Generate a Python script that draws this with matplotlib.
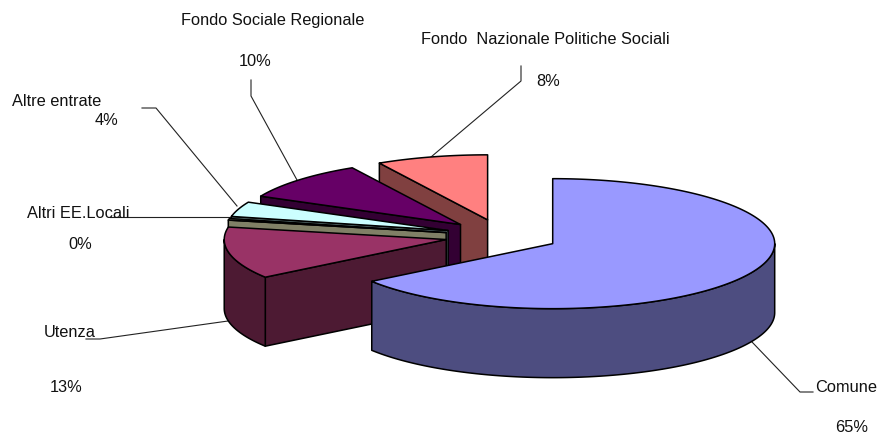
import numpy as np
import matplotlib
matplotlib.use('Agg')
import matplotlib.pyplot as plt
from matplotlib.patches import Polygon

categories = ['Comune', 'Utenza', 'Altri EE.Locali', 'Altre entrate',
              'Fondo Sociale Regionale', 'Fondo  Nazionale Politiche Sociali']
values = [65.1, 12.9, 0.4, 3.7, 9.7, 8.1]
top_colors = ['#9999FF', '#993366', '#FFFFCC', '#CCFFFF', '#660066', '#FF8080']
side_colors = ['#4D4D80', '#4D1A33', '#808066', '#668080', '#330033', '#804040']

# pie geometry, in pixels of the 884x439 picture
cx, cy = 502, 237
rx, ry = 222, 65
depth = 69
explode = 0.257

# name position, percent position, leader line
name_pos = [(815, 387.5), (44, 333), (27, 213.5), (12, 102), (181, 20.5), (421, 40)]
pct_pos = [(835, 428), (50, 388), (68, 245), (95, 121), (239, 61), (536, 81)]
leaders = [
    [(813, 393), (800, 393), (752, 343)],
    [(86, 340), (100, 340), (228, 322)],
    [(110, 218), (231, 218)],
    [(142, 109), (156, 109), (237, 207)],
    [(251, 81), (251, 97), (297, 181)],
    [(521, 67), (521, 82), (431, 158)],
]


def rim(ax0, ay0, a0, a1, drop=0):
    t = np.radians(np.linspace(a0, a1, max(int(abs(a1 - a0)) * 2, 2)))
    return np.column_stack([ax0 + rx * np.sin(t), ay0 - ry * np.cos(t) + drop])


fig = plt.figure(figsize=(8.84, 4.39), dpi=100)
ax = fig.add_axes([0, 0, 1, 1])
ax.set_xlim(0, 884)
ax.set_ylim(439, 0)
ax.axis('off')

total = sum(values)
edges = np.cumsum([0] + values) / total * 360

# leaders go under the pie
for line in leaders:
    xs, ys = zip(*line)
    ax.plot(xs, ys, color='#222222', lw=0.8, zorder=1)

# back to front: last slice first, Comune last
z = 2
for i in reversed(range(len(values))):
    a0, a1 = edges[i], edges[i + 1]
    mid = np.radians((a0 + a1) / 2)
    ax0 = cx + explode * rx * np.sin(mid)
    ay0 = cy - explode * ry * np.cos(mid)
    apex = np.array([[ax0, ay0]])
    apex_low = np.array([[ax0, ay0 + depth]])
    style = dict(edgecolor='black', lw=1.1, joinstyle='round', zorder=z)

    # cut face at the start of the slice, only if it looks to the viewer
    if a0 > 180:
        p = rim(ax0, ay0, a0, a0)[:1]
        face = np.vstack([apex, p, p + [0, depth], apex_low])
        ax.add_patch(Polygon(face, facecolor=side_colors[i], **style))
    # outer wall, front half of the ellipse only
    w0, w1 = max(a0, 90), min(a1, 270)
    if w1 > w0:
        wall = np.vstack([rim(ax0, ay0, w0, w1), rim(ax0, ay0, w1, w0, depth)])
        ax.add_patch(Polygon(wall, facecolor=side_colors[i], **style))
    top = np.vstack([apex, rim(ax0, ay0, a0, a1)])
    ax.add_patch(Polygon(top, facecolor=top_colors[i], **style))
    z += 1

font = dict(family='Liberation Sans', fontsize=11.8, color='#111111', va='center', ha='left')
for name, value, p, q in zip(categories, values, name_pos, pct_pos):
    ax.text(p[0], p[1], name, zorder=20, **font)
    ax.text(q[0], q[1], f'{round(value)}%', zorder=20, **font)

fig.savefig('out.png', dpi=100, facecolor='white')
